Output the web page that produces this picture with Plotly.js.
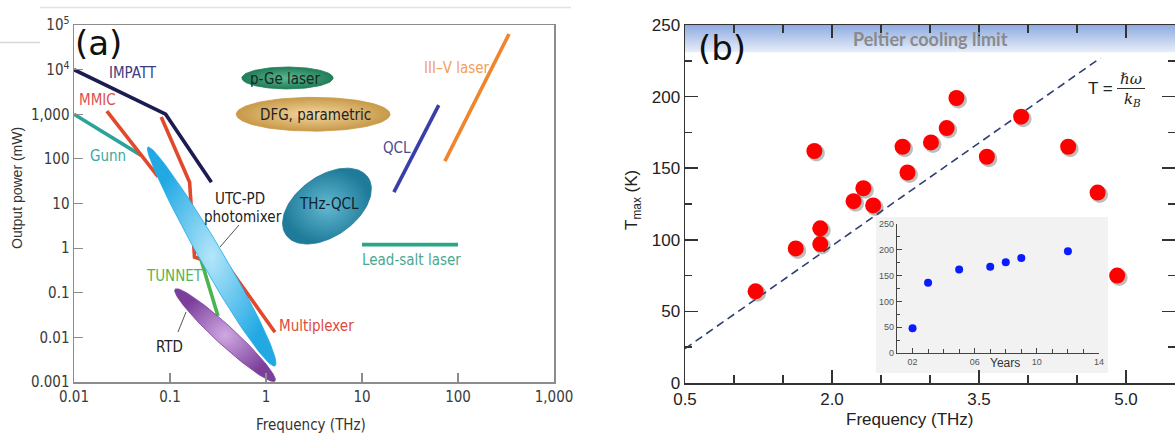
<!DOCTYPE html>
<html>
<head>
<meta charset="utf-8">
<script src="https://cdn.plot.ly/plotly-3.0.1.min.js"></script>
<style>
  html, body { margin: 0; padding: 0; background: #fff; }
  #chart { width: 1175px; height: 433px; }
</style>
</head>
<body>
<div id="chart"></div>
<script>
// ---------- Panel (a): THz sources, output power (mW) vs frequency (THz) ----------
const impattFreq = [0.01, 0.09, 0.27];
const impattPower = [10000, 1000, 30];
const mmicFreq = [0.022, 0.075];
const mmicPower = [1180, 40];
const gunnFreq = [0.01, 0.05];
const gunnPower = [1000, 120];
const multiplexerFreq = [0.081, 0.16, 0.18, 0.42, 1.24];
const multiplexerPower = [865, 30, 0.63, 0.34, 0.013];
const tunnetFreq = [0.205, 0.316];
const tunnetPower = [0.66, 0.03];
const qclFreq = [21.5, 63];
const qclPower = [18, 1600];
const iiivFreq = [73, 340];
const iiivPower = [89, 63000];
const leadSaltFreq = [10, 100];
const leadSaltPower = [1.2, 1.2];

// Source regions: the two ends of each region's long axis, [frequency, power]
const pGeEnds = [[0.56, 6500], [5.0, 6500]];
const dfgEnds = [[0.49, 1000], [19.6, 1000]];
const thzQclEnds = [[1.62, 1.96], [11.5, 39]];
const photomixerEnds = [[0.059, 184], [1.24, 0.0023]];
const rtdEnds = [[0.113, 0.12], [1.24, 0.00105]];

const freqTickVals = [0.01, 0.1, 1, 10, 100, 1000];
const freqTickText = ['0.01', '0.1', '1', '10', '100', '1,000'];
const powerTickVals = [0.001, 0.01, 0.1, 1, 10, 100, 1000, 10000, 100000];
const powerTickText = ['0.001', '0.01', '0.1', '1', '10', '100', '1,000', '10<sup>4</sup>', '10<sup>5</sup>'];

// ---------- Panel (b): maximum operating temperature of THz QCLs ----------
const tmaxFreq = [1.22, 1.63, 1.82, 1.88, 1.88, 2.22, 2.32, 2.42, 2.72, 2.77, 3.01, 3.17, 3.27, 3.58, 3.93, 4.41, 4.71, 4.91];
const tmaxK = [64, 94, 162, 108, 97, 127, 136, 124, 165, 147, 168, 178, 199, 158, 186, 165, 133, 75];
const photonLineFreq = [0.5, 4.74];
const photonLineT = [24, 227];
const peltierLimitK = 231;

// Inset: record T_max by year
const insetYears = [2, 3, 5, 7, 8, 9, 12];
const insetTmax = [48, 136, 162, 167, 176, 184, 197];
const insetYearTicks = [2, 6, 10, 14];
const insetYearText = ['02', '06', '10', '14'];

// ---------- geometry helpers ----------
const W = 1175, H = 433;
const px = v => v / W;
const py = v => 1 - v / H;

const aBox = { l: 74, r: 554, t: 25, b: 382 };
const bBox = { l: 685, r: 1175, t: 25, b: 383 };
const insetBox = { l: 897, r: 1099, t: 224, b: 353 };

const decX = (aBox.r - aBox.l) / 5;   // pixels per decade, frequency
const decY = (aBox.b - aBox.t) / 8;   // pixels per decade, power

const narrow = "'Liberation Sans Narrow', 'Arial Narrow', 'DejaVu Sans Condensed', sans-serif";
const sans = "'Liberation Sans', Arial, sans-serif";

function lineTrace(x, y, color) {
  return { type: 'scatter', mode: 'lines', x, y, xaxis: 'x', yaxis: 'y',
           line: { color, width: 3.6 }, hoverinfo: 'skip' };
}

// Filled region around the long axis between two data points on the log-log axes
function regionTrace(ends, widthRatio, skew, edge, centre) {
  const [a, b] = ends;
  const ua = Math.log10(a[0]) * decX, va = Math.log10(a[1]) * decY;
  const ub = Math.log10(b[0]) * decX, vb = Math.log10(b[1]) * decY;
  const cu = (ua + ub) / 2, cv = (va + vb) / 2;
  const L = Math.hypot(ub - ua, vb - va) / 2;
  const du = (ub - ua) / (2 * L), dv = (vb - va) / (2 * L);
  const nu = -dv, nv = du;
  const xs = [], ys = [];
  const N = 120;
  for (let i = 0; i <= N; i++) {
    const t = 2 * Math.PI * i / N;
    const c = Math.cos(t), s = Math.sin(t);
    const w = widthRatio * L * (1 + skew * c);
    const u = cu + du * L * c + nu * w * s;
    const v = cv + dv * L * c + nv * w * s;
    xs.push(Math.pow(10, u / decX));
    ys.push(Math.pow(10, v / decY));
  }
  return { type: 'scatter', mode: 'lines', x: xs, y: ys, xaxis: 'x', yaxis: 'y',
           fill: 'toself', fillcolor: edge,
           fillgradient: { type: 'radial', colorscale: [[0, centre], [1, edge]] },
           line: { color: edge, width: 0.8 }, hoverinfo: 'skip' };
}

// ---------- traces ----------
const traces = [
  lineTrace(gunnFreq, gunnPower, '#2aa39a'),
  lineTrace(mmicFreq, mmicPower, '#e2492b'),
  lineTrace(multiplexerFreq, multiplexerPower, '#e2492b'),
  lineTrace(impattFreq, impattPower, '#1c1c52'),
  lineTrace(tunnetFreq, tunnetPower, '#4cb34e'),
  lineTrace(qclFreq, qclPower, '#3a3ea8'),
  lineTrace(iiivFreq, iiivPower, '#f0852d'),
  lineTrace(leadSaltFreq, leadSaltPower, '#2aa687'),
  regionTrace(pGeEnds, 0.24, 0, '#217d58', '#5cb892'),
  regionTrace(dfgEnds, 0.22, 0, '#c89a48', '#f2d7a2'),
  regionTrace(thzQclEnds, 0.6, 0, '#1f7b9a', '#62b9d1'),
  regionTrace(photomixerEnds, 0.09, 0.12, '#22a9e4', '#b4e6fa'),
  regionTrace(rtdEnds, 0.14, 0, '#7b3f9b', '#cfa8e2'),

  // panel (b): soft shadows under the points (offset subplot)
  { type: 'scatter', mode: 'markers', x: tmaxFreq, y: tmaxK, xaxis: 'x2', yaxis: 'y2',
    marker: { color: 'rgba(70,70,70,0.35)', size: 17 }, hoverinfo: 'skip' },

  // Peltier cooling band
  { type: 'scatter', mode: 'lines', xaxis: 'x4', yaxis: 'y4',
    x: [0.5, 5.5, 5.5, 0.5, 0.5], y: [peltierLimitK, peltierLimitK, 250, 250, peltierLimitK],
    fill: 'toself', fillcolor: '#c2d2f0',
    fillgradient: { type: 'vertical', colorscale: [[0, '#e8eefa'], [1, '#8eabe0']] },
    line: { width: 0 }, hoverinfo: 'skip' },

  // T = hbar*omega / k_B
  { type: 'scatter', mode: 'lines', x: photonLineFreq, y: photonLineT, xaxis: 'x4', yaxis: 'y4',
    line: { color: '#2d4070', width: 1.6, dash: '8px,5px' }, hoverinfo: 'skip' },

  { type: 'scatter', mode: 'markers', x: tmaxFreq, y: tmaxK, xaxis: 'x4', yaxis: 'y4',
    marker: { color: '#ff0000', size: 16, line: { width: 0 } }, hoverinfo: 'skip' },

  // inset
  { type: 'scatter', mode: 'markers', x: insetYears, y: insetTmax, xaxis: 'x3', yaxis: 'y3',
    marker: { color: '#0a1cff', size: 8, line: { width: 0 } }, hoverinfo: 'skip' }
];

// ---------- annotations ----------
function label(text, x, y, color, size, family, extra) {
  return Object.assign({ xref: 'paper', yref: 'paper', x: px(x), y: py(y), text,
    showarrow: false, xanchor: 'center', yanchor: 'middle',
    font: { family: family || narrow, size: size || 15, color } }, extra || {});
}

const annotations = [
  label('(a)', 98, 43, '#111', 34, "'DejaVu Sans', sans-serif"),
  label('(b)', 722, 48, '#111', 34, "'DejaVu Sans', sans-serif"),

  label('IMPATT', 133, 73, '#3d3d80'),
  label('MMIC', 97, 100, '#e05048'),
  label('Gunn', 108, 156, '#3aa8a0'),
  label('p-Ge laser', 285, 79, '#15261d'),
  label('DFG, parametric', 315, 115, '#222'),
  label('THz-QCL', 329, 204, '#0f1f2a'),
  label('UTC-PD', 240, 199, '#222'),
  label('photomixer', 243, 217, '#222'),
  label('TUNNET', 174, 276, '#55b555'),
  label('RTD', 170, 347, '#222'),
  label('Multiplexer', 316, 326, '#e04a3a'),
  label('QCL', 397, 148, '#4a4a90'),
  label('III–V laser', 457, 68, '#f0a060'),
  label('Lead-salt laser', 411, 260, '#4aa890'),
  label('Frequency (THz)', 311, 425, '#333', 15),
  label('Output power (mW)', 17, 188, '#333', 14, sans, { textangle: -90 }),

  { xref: 'x4', yref: 'y4', x: 3.0, y: 240.5, text: '<b>Peltier cooling limit</b>', showarrow: false,
    font: { family: "Lato, 'Open Sans', sans-serif", size: 18, color: '#8a8a8a' } },
  label('T =', 1100, 88, '#222', 17, sans),
  label('<i>ℏω</i>', 1131, 79, '#222', 15, "'DejaVu Serif', serif"),
  label('<i>k<sub>B</sub></i>', 1132, 100, '#222', 15, "'DejaVu Serif', serif"),
  label('T<sub>max</sub> (K)', 633, 200, '#222', 17, sans, { textangle: -90 }),
  label('Frequency (THz)', 910, 419, '#222', 17, sans),
  label('Years', 1005, 363, '#333', 12, sans)
];

const shapes = [
  { type: 'line', xref: 'paper', yref: 'paper', x0: px(40), x1: px(571), y0: py(7.5), y1: py(7.5),
    line: { color: '#e2e2e2', width: 1.5 } },
  { type: 'line', xref: 'paper', yref: 'paper', x0: 0, x1: px(40), y0: py(42.5), y1: py(42.5),
    line: { color: '#d8d8d8', width: 1.5 } },
  // label leaders
  { type: 'line', xref: 'paper', yref: 'paper', x0: px(239), y0: py(225), x1: px(220), y1: py(247),
    line: { color: '#555', width: 1 } },
  { type: 'line', xref: 'paper', yref: 'paper', x0: px(178), y0: py(332), x1: px(186), y1: py(312),
    line: { color: '#555', width: 1 } },
  // fraction bar
  { type: 'line', xref: 'paper', yref: 'paper', x0: px(1117), x1: px(1145), y0: py(88.5), y1: py(88.5),
    line: { color: '#333', width: 1 } },
  // inset backdrop
  { type: 'rect', xref: 'paper', yref: 'paper', layer: 'below',
    x0: px(876), x1: px(1108), y0: py(373), y1: py(217),
    fillcolor: '#f2f2f2', line: { width: 0 } }
];

// ---------- axes ----------
const shiftX = 2 / ((bBox.r - bBox.l) / 5);
const shiftY = 2 / ((bBox.b - bBox.t) / 250);

const layout = {
  width: W, height: H,
  margin: { l: 0, r: 0, t: 0, b: 0 },
  paper_bgcolor: '#ffffff', plot_bgcolor: 'rgba(0,0,0,0)',
  showlegend: false, hovermode: false,
  xaxis: {
    type: 'log', range: [-2, 3], domain: [px(aBox.l), px(aBox.r)], anchor: 'y',
    showline: true, mirror: true, linecolor: '#8c8c8c', linewidth: 1.5,
    ticks: 'inside', ticklen: 9, tickwidth: 1.2, tickcolor: '#8c8c8c',
    tickmode: 'array', tickvals: freqTickVals, ticktext: freqTickText,
    tickfont: { family: narrow, size: 15, color: '#3a3a3a' },
    showgrid: false, zeroline: false, fixedrange: true
  },
  yaxis: {
    type: 'log', range: [-3, 5], domain: [py(aBox.b), py(aBox.t)], anchor: 'x',
    showline: true, mirror: true, linecolor: '#8c8c8c', linewidth: 1.5,
    ticks: 'inside', ticklen: 9, tickwidth: 1.2, tickcolor: '#8c8c8c',
    tickmode: 'array', tickvals: powerTickVals, ticktext: powerTickText,
    tickfont: { family: narrow, size: 15, color: '#3a3a3a' },
    showgrid: false, zeroline: false, fixedrange: true
  },
  xaxis2: {
    domain: [px(bBox.l), 1], range: [0.5 - shiftX, 5.5 - shiftX], anchor: 'y2',
    visible: false, fixedrange: true
  },
  yaxis2: {
    domain: [py(bBox.b), py(bBox.t)], range: [shiftY, 250 + shiftY], anchor: 'x2',
    visible: false, fixedrange: true
  },
  xaxis4: {
    overlaying: 'x2', anchor: 'y4', range: [0.5, 5.5],
    showline: true, mirror: 'ticks', linecolor: '#333', linewidth: 1.5,
    ticks: 'inside', ticklen: 13, tickwidth: 1.5, tickcolor: '#333',
    tick0: 0.5, dtick: 1.5, tickformat: '.1f',
    minor: { tick0: 0.5, dtick: 0.5, ticks: 'inside', ticklen: 8, tickwidth: 1.5, tickcolor: '#333' },
    tickfont: { family: sans, size: 17, color: '#222' },
    showgrid: false, zeroline: false, fixedrange: true
  },
  yaxis4: {
    overlaying: 'y2', anchor: 'x4', range: [0, 250],
    showline: true, mirror: 'ticks', linecolor: '#333', linewidth: 1.5,
    ticks: 'inside', ticklen: 13, tickwidth: 1.5, tickcolor: '#333',
    tick0: 0, dtick: 50,
    minor: { tick0: 0, dtick: 25, ticks: 'inside', ticklen: 7, tickwidth: 1.5, tickcolor: '#333' },
    tickfont: { family: sans, size: 17, color: '#222' },
    showgrid: false, zeroline: false, fixedrange: true
  },
  xaxis3: {
    domain: [px(insetBox.l), px(insetBox.r)], range: [1, 14], anchor: 'y3',
    showline: true, linecolor: '#444', linewidth: 1.2,
    ticks: 'inside', ticklen: 5, tickwidth: 1, tickcolor: '#444',
    tickmode: 'array', tickvals: insetYearTicks, ticktext: insetYearText,
    minor: { tick0: 1, dtick: 1, ticks: 'inside', ticklen: 4, tickwidth: 1, tickcolor: '#444' },
    tickfont: { family: sans, size: 9, color: '#555' },
    showgrid: false, zeroline: false, fixedrange: true
  },
  yaxis3: {
    domain: [py(insetBox.b), py(insetBox.t)], range: [0, 250], anchor: 'x3',
    showline: true, linecolor: '#444', linewidth: 1.2,
    ticks: 'inside', ticklen: 5, tickwidth: 1, tickcolor: '#444',
    tick0: 0, dtick: 50,
    minor: { tick0: 0, dtick: 25, ticks: 'inside', ticklen: 3, tickwidth: 1, tickcolor: '#444' },
    tickfont: { family: sans, size: 9, color: '#555' },
    showgrid: false, zeroline: false, fixedrange: true
  },
  annotations, shapes
};

Plotly.newPlot('chart', traces, layout, { staticPlot: true, displayModeBar: false });
</script>
</body>
</html>
